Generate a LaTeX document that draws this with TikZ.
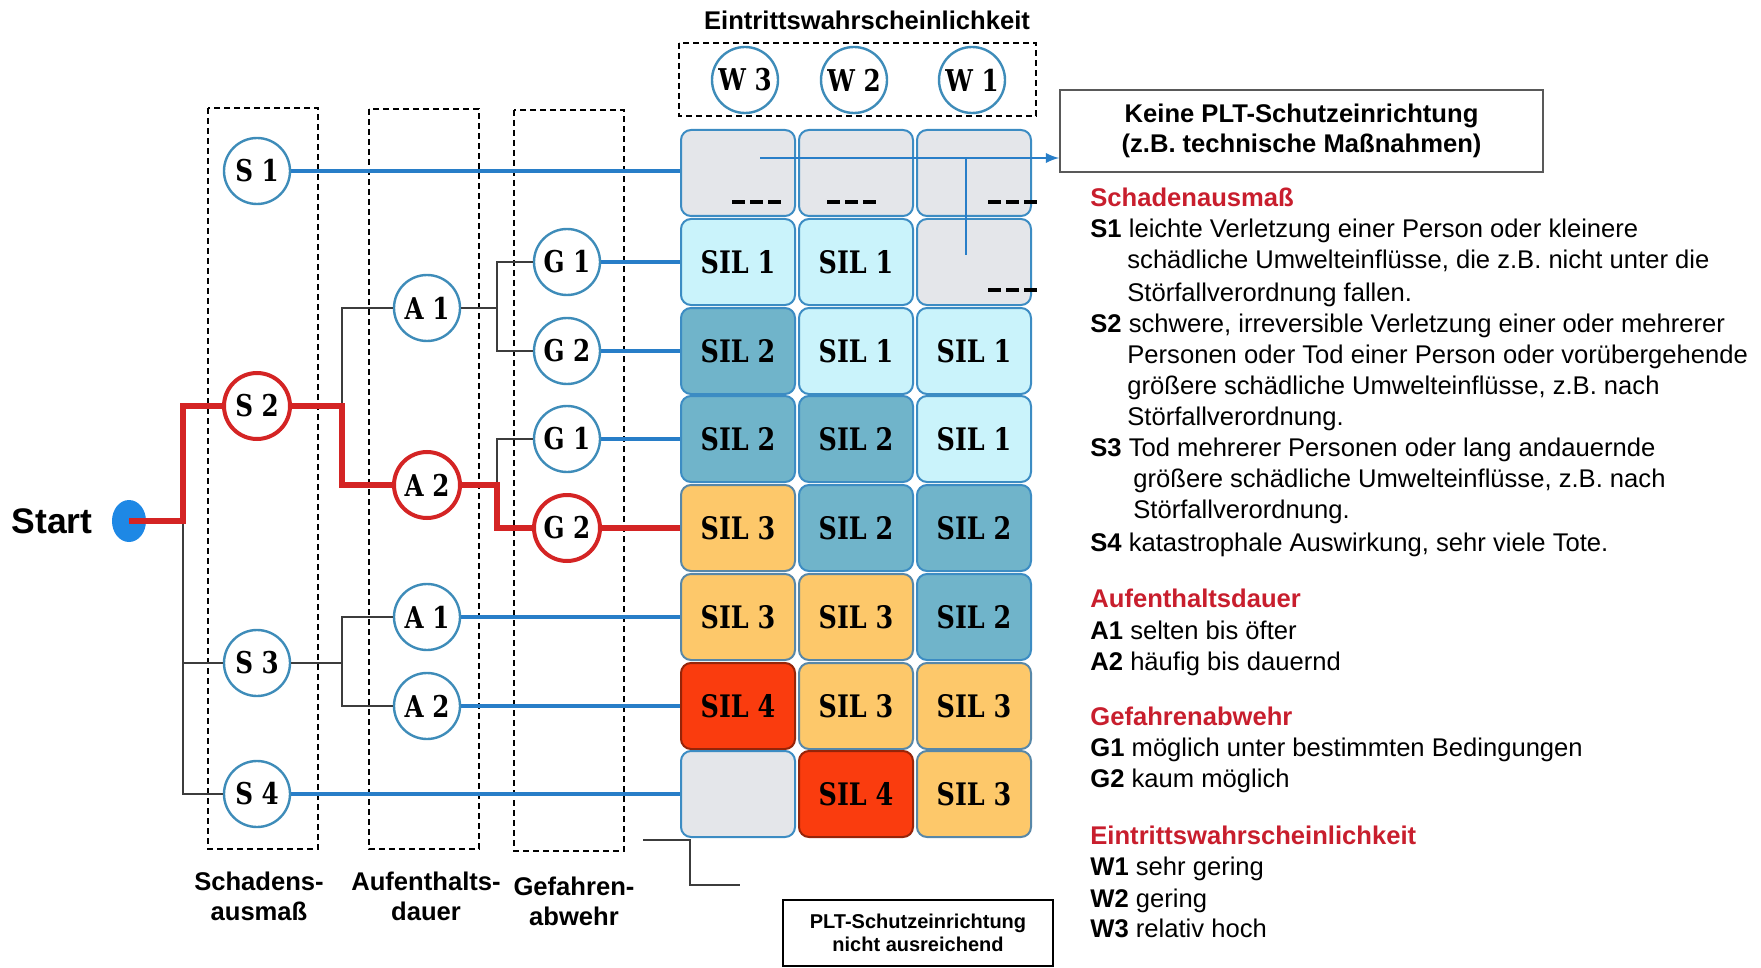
\documentclass[tikz,border=0pt]{standalone}
\usepackage{fontspec}
\setmainfont{Liberation Sans}
\newfontfamily\silfont[FakeStretch=0.82]{DejaVu Serif}
\usepackage{xcolor}
\usepackage{tikz}

\definecolor{lineblue}{RGB}{40,126,200}
\definecolor{ringblue}{RGB}{62,140,185}
\definecolor{dotblue}{RGB}{30,136,229}
\definecolor{pathred}{RGB}{212,36,36}
\definecolor{headred}{RGB}{200,30,45}
\definecolor{treegray}{RGB}{60,60,60}
\definecolor{cellrim}{RGB}{60,140,195}
\definecolor{cellgrey}{RGB}{228,230,234}
\definecolor{silone}{RGB}{202,243,251}
\definecolor{siltwo}{RGB}{112,180,202}
\definecolor{silthree}{RGB}{253,200,106}
\definecolor{silfour}{RGB}{250,60,14}

\begin{document}
\begin{tikzpicture}[x=0.5pt, y=-0.5pt,
		ring/.style={circle, draw=ringblue, line width=1.2pt, fill=white, minimum size=33pt, inner sep=0pt, font=\silfont\bfseries\fontsize{15}{15}\selectfont},
		redring/.style={ring, draw=pathred, line width=2pt},
		cell/.style={rectangle, rounded corners=5pt, draw=cellrim, line width=1pt, minimum width=57pt, minimum height=43pt, inner sep=0pt, font=\silfont\bfseries\fontsize{15.5}{15.5}\selectfont},
		voidcell/.style={cell, fill=cellgrey},
		sila/.style={cell, fill=silone},
		silb/.style={cell, fill=siltwo},
		silc/.style={cell, fill=silthree, draw=cellrim!60!gray},
		sild/.style={cell, fill=silfour, draw=silfour!60!black},
		frame/.style={dashed, dash pattern=on 3pt off 2pt, line width=0.7pt},
		tree/.style={treegray, line width=0.8pt},
		branch/.style={lineblue, line width=1.7pt},
		redpath/.style={pathred, line width=3pt},
		dashmark/.style={line width=1.7pt, dash pattern=on 6.5pt off 2.5pt},
		boldtxt/.style={font=\bfseries\fontsize{12.8}{15}\selectfont, align=center, inner sep=0pt},
		legtxt/.style={anchor=base west, inner sep=0pt, font=\fontsize{12.8}{15}\selectfont},
		leghead/.style={legtxt, font=\bfseries\fontsize{12.8}{15}\selectfont, text=headred}
	]
		\useasboundingbox (0,0) rectangle (1761,968);
		
		%dashed frames of the columns
		\draw [frame] (208,108) rectangle (318,849);
		\draw [frame] (369,109) rectangle (479,849);
		\draw [frame] (514,110) rectangle (624,851);
		\draw [frame] (679,43) rectangle (1036,116);
		
		\node [boldtxt] (title W) at (867,20) {Eintrittswahrscheinlichkeit};
		
		%probability circles
		\node [ring] (w3) at (745,80) {W 3};
		\node [ring] (w2) at (854,80) {W 2};
		\node [ring] (w1) at (972,80) {W 1};
		
		%risk graph
		\node [voidcell] (c11) at (738,173) {};
		\node [voidcell] (c12) at (856,173) {};
		\node [voidcell] (c13) at (974,173) {};
		\node [sila] (c21) at (738,262) {SIL 1};
		\node [sila] (c22) at (856,262) {SIL 1};
		\node [voidcell] (c23) at (974,262) {};
		\node [silb] (c31) at (738,351) {SIL 2};
		\node [sila] (c32) at (856,351) {SIL 1};
		\node [sila] (c33) at (974,351) {SIL 1};
		\node [silb] (c41) at (738,439) {SIL 2};
		\node [silb] (c42) at (856,439) {SIL 2};
		\node [sila] (c43) at (974,439) {SIL 1};
		\node [silc] (c51) at (738,528) {SIL 3};
		\node [silb] (c52) at (856,528) {SIL 2};
		\node [silb] (c53) at (974,528) {SIL 2};
		\node [silc] (c61) at (738,617) {SIL 3};
		\node [silc] (c62) at (856,617) {SIL 3};
		\node [silb] (c63) at (974,617) {SIL 2};
		\node [sild] (c71) at (738,706) {SIL 4};
		\node [silc] (c72) at (856,706) {SIL 3};
		\node [silc] (c73) at (974,706) {SIL 3};
		\node [voidcell] (c81) at (738,794) {};
		\node [sild] (c82) at (856,794) {SIL 4};
		\node [silc] (c83) at (974,794) {SIL 3};
		
		\draw [dashmark] (732,202) -- ++(49,0);
		\draw [dashmark] (827,202) -- ++(49,0);
		\draw [dashmark] (988,202) -- ++(49,0);
		\draw [dashmark] (988,290) -- ++(49,0);
		
		%parameter circles
		\node [ring] (s1) at (257,171) {S 1};
		\node [redring] (s2) at (257,406) {S 2};
		\node [ring] (s3) at (257,663) {S 3};
		\node [ring] (s4) at (257,794) {S 4};
		\node [ring] (a1) at (427,308) {A 1};
		\node [redring] (a2) at (427,485) {A 2};
		\node [ring] (a1b) at (427,617) {A 1};
		\node [ring] (a2b) at (427,706) {A 2};
		\node [ring] (g1) at (567,262) {G 1};
		\node [ring] (g2) at (567,351) {G 2};
		\node [ring] (g1b) at (567,439) {G 1};
		\node [redring] (g2b) at (567,528) {G 2};
		
		\coordinate (start) at (129,521);
		\coordinate (trunk) at (183,521);
		\coordinate (jA) at (342,0);
		\coordinate (jG) at (497,0);
		
		%tree
		\draw [tree] (trunk) |- (s3.west);
		\draw [tree] (trunk) |- (s4.west);
		\draw [tree] (s2.east -| jA) |- (a1.west);
		\draw [tree] (a1.east) -- (a1.east -| jG) |- (g1.west);
		\draw [tree] (a1.east -| jG) |- (g2.west);
		\draw [tree] (a2.east -| jG) |- (g1b.west);
		\draw [tree] (s3.east) -- (s3.east -| jA) |- (a1b.west);
		\draw [tree] (s3.east -| jA) |- (a2b.west);
		
		%lines into the graph
		\draw [branch] (s1) -- (s1 -| c11.west);
		\draw [branch] (g1) -- (c21);
		\draw [branch] (g2) -- (c31);
		\draw [branch] (g1b) -- (c41);
		\draw [branch] (a1b) -- (c61);
		\draw [branch] (a2b) -- (c71);
		\draw [branch] (s4) -- (c81);
		
		%example path
		\fill [dotblue] (start) ellipse [x radius=17, y radius=21];
		\draw [redpath] (start) -- (trunk) |- (s2.west);
		\draw [redpath] (s2.east) -- (s2.east -| jA) |- (a2.west);
		\draw [redpath] (a2.east) -- (a2.east -| jG) |- (g2b.west);
		\draw [redpath] (g2b) -- (c51);
		
		\node [font=\bfseries\fontsize{17.75}{18}\selectfont, inner sep=0pt] (start label) at (52,521) {Start};
		
		%column captions
		\node [boldtxt] (cap S) at (259,896) {Schadens-\\ausmaß};
		\node [boldtxt] (cap A) at (426,896) {Aufenthalts-\\dauer};
		\node [boldtxt] (cap G) at (574,901) {Gefahren-\\abwehr};
		
		%boxes
		\node [boldtxt, draw=gray!70!black, line width=0.8pt, minimum width=241.5pt, minimum height=41pt] (keine) at (1301.5,131) {Keine PLT-Schutzeinrichtung\\(z.B. technische Maßnahmen)};
		\coordinate (arrow beginning) at (760,158);
		\coordinate (drop beginning) at (966,158);
		\draw [lineblue, line width=1.3pt, -latex] (arrow beginning) -- (arrow beginning -| keine.west);
		\draw [lineblue, line width=1.3pt] (drop beginning) -- ++(0,97);
		
		\node [draw, line width=1pt, minimum width=135pt, minimum height=33pt, align=center, inner sep=0pt, font=\bfseries\fontsize{10}{11.5}\selectfont] (plt) at (918,933) {PLT-Schutzeinrichtung\\nicht ausreichend};
		\coordinate (bracket beginning) at (643,840);
		\draw [treegray, line width=1pt] (bracket beginning) -- ++(47,0) -- ++(0,45) -- ++(50,0);
		
		%legend
		\node [leghead] (hS) at (1090,207) {Schadenausmaß};
		\node [legtxt] (lS1) at (1090,238) {\textbf{S1} leichte Verletzung einer Person oder kleinere};
		\node [legtxt] (lS1b) at (1127,269) {schädliche Umwelteinflüsse, die z.B. nicht unter die};
		\node [legtxt] (lS1c) at (1127,301) {Störfallverordnung fallen.};
		\node [legtxt] (lS2) at (1090,332) {\textbf{S2} schwere, irreversible Verletzung einer oder mehrerer};
		\node [legtxt] (lS2b) at (1127,363) {Personen oder Tod einer Person oder vorübergehende};
		\node [legtxt] (lS2c) at (1127,394) {größere schädliche Umwelteinflüsse, z.B. nach};
		\node [legtxt] (lS2d) at (1127,425) {Störfallverordnung.};
		\node [legtxt] (lS3) at (1090,456) {\textbf{S3} Tod mehrerer Personen oder lang andauernde};
		\node [legtxt] (lS3b) at (1133,487) {größere schädliche Umwelteinflüsse, z.B. nach};
		\node [legtxt] (lS3c) at (1133,518) {Störfallverordnung.};
		\node [legtxt] (lS4) at (1090,551) {\textbf{S4} katastrophale Auswirkung, sehr viele Tote.};
		
		\node [leghead] (hA) at (1090,607) {Aufenthaltsdauer};
		\node [legtxt] (lA1) at (1090,639) {\textbf{A1} selten bis öfter};
		\node [legtxt] (lA2) at (1090,670) {\textbf{A2} häufig bis dauernd};
		
		\node [leghead] (hG) at (1090,725) {Gefahrenabwehr};
		\node [legtxt] (lG1) at (1090,756) {\textbf{G1} möglich unter bestimmten Bedingungen};
		\node [legtxt] (lG2) at (1090,787) {\textbf{G2} kaum möglich};
		
		\node [leghead] (hW) at (1090,844) {Eintrittswahrscheinlichkeit};
		\node [legtxt] (lW1) at (1090,875) {\textbf{W1} sehr gering};
		\node [legtxt] (lW2) at (1090,907) {\textbf{W2} gering};
		\node [legtxt] (lW3) at (1090,937) {\textbf{W3} relativ hoch};
	\end{tikzpicture}
\end{document}
